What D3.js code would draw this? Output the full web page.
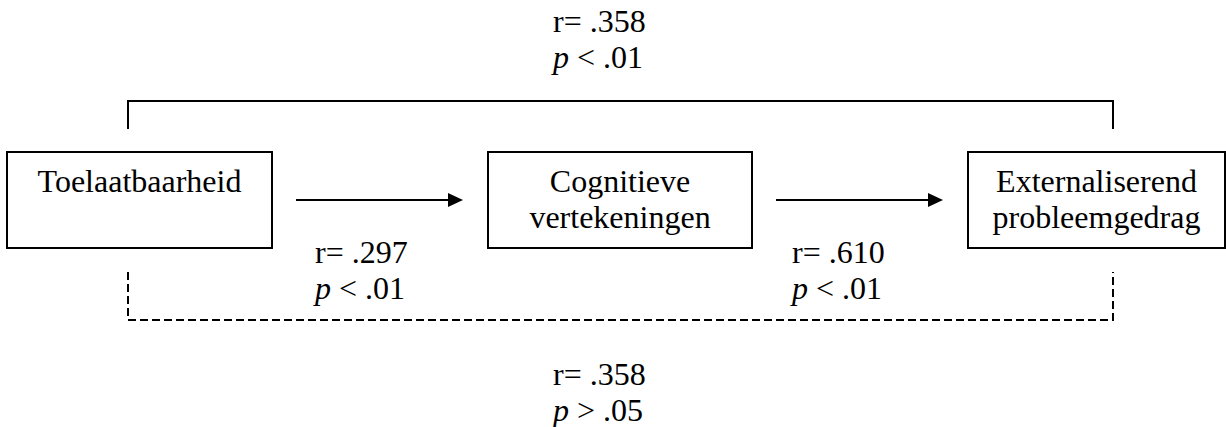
<!DOCTYPE html>
<html lang="en">
<head>
    <meta charset="UTF-8">
    <title>Mediatie</title>
    <script src="https://cdn.jsdelivr.net/npm/d3@7/dist/d3.min.js"></script>
    <style>
        body { margin: 0; background: #fff; }
        svg { display: block; }
        text { font-family: "Liberation Serif", "Times New Roman", serif; font-size: 32px; fill: #000; }
        .box { fill: none; stroke: #000; stroke-width: 2; }
        .link { fill: none; stroke: #000; stroke-width: 2; }
        .dashed { stroke-dasharray: 8, 4; }
    </style>
</head>
<body>
    <svg width="1226" height="427"></svg>

    <script>
        // variables (one box each)
        const nodeLabels = [
            ["Toelaatbaarheid"],
            ["Cognitieve", "vertekeningen"],
            ["Externaliserend", "probleemgedrag"]
        ];

        // path statistics: total effect (top), a, b, direct effect (bottom)
        const statNames = ["total", "a", "b", "direct"];
        const rValues = [".358", ".297", ".610", ".358"];
        const pSigns = ["<", "<", "<", ">"];
        const pValues = [".01", ".01", ".01", ".05"];

        // layout
        const boxX = [7, 488, 968];
        const boxW = [265, 264, 257];
        const boxTop = 152, boxH = 96;
        const statPos = {
            total:  [553, 32],
            a:      [315, 263],
            b:      [792, 263],
            direct: [553, 385]
        };
        const lineGap = 36;

        const svg = d3.select("svg");
        const y = d3.scaleLinear().domain([0, 1]).range([boxTop, boxTop + boxH]);

        // boxes
        const node = svg.selectAll("g.node")
            .data(nodeLabels)
            .enter().append("g")
            .attr("class", "node");

        node.append("rect")
            .attr("class", "box")
            .attr("x", (d, i) => boxX[i])
            .attr("y", y(0))
            .attr("width", (d, i) => boxW[i])
            .attr("height", boxH);

        node.selectAll("text")
            .data((d, i) => d.map(t => ({ t, cx: boxX[i] + boxW[i] / 2 })))
            .enter().append("text")
            .attr("x", d => d.cx)
            .attr("y", (d, j) => 192 + j * lineGap)
            .attr("text-anchor", "middle")
            .text(d => d.t);

        // arrows between boxes
        const midY = y(0.5);
        const arrows = d3.range(nodeLabels.length - 1).map(i => ({
            x0: boxX[i] + boxW[i] + 24,
            x1: boxX[i + 1] - 25
        }));

        svg.selectAll("line.arrow")
            .data(arrows)
            .enter().append("line")
            .attr("class", "link arrow")
            .attr("x1", d => d.x0)
            .attr("x2", d => d.x1 - 12)
            .attr("y1", midY)
            .attr("y2", midY);

        svg.selectAll("path.head")
            .data(arrows)
            .enter().append("path")
            .attr("class", "head")
            .attr("d", d => `M${d.x1 - 15},${midY - 7}L${d.x1},${midY}L${d.x1 - 15},${midY + 7}Z`)
            .attr("fill", "#000");

        // brackets: total effect above, direct effect below (dashed)
        const leftX = 128, rightX = 1113;
        svg.append("path")
            .attr("class", "link")
            .attr("d", `M${leftX},129V101H${rightX}V129`);

        svg.append("path")
            .attr("class", "link dashed")
            .attr("d", `M${leftX},272V320H${rightX}V272`);

        // statistics labels
        const stat = svg.selectAll("g.stat")
            .data(statNames)
            .enter().append("g")
            .attr("class", "stat")
            .attr("transform", d => `translate(${statPos[d][0]},${statPos[d][1]})`);

        stat.append("text")
            .text((d, i) => "r= " + rValues[i]);

        const pLine = stat.append("text")
            .attr("y", lineGap);
        pLine.append("tspan")
            .attr("font-style", "italic")
            .text("p");
        pLine.append("tspan")
            .text((d, i) => " " + pSigns[i] + " " + pValues[i]);
    </script>
</body>
</html>
